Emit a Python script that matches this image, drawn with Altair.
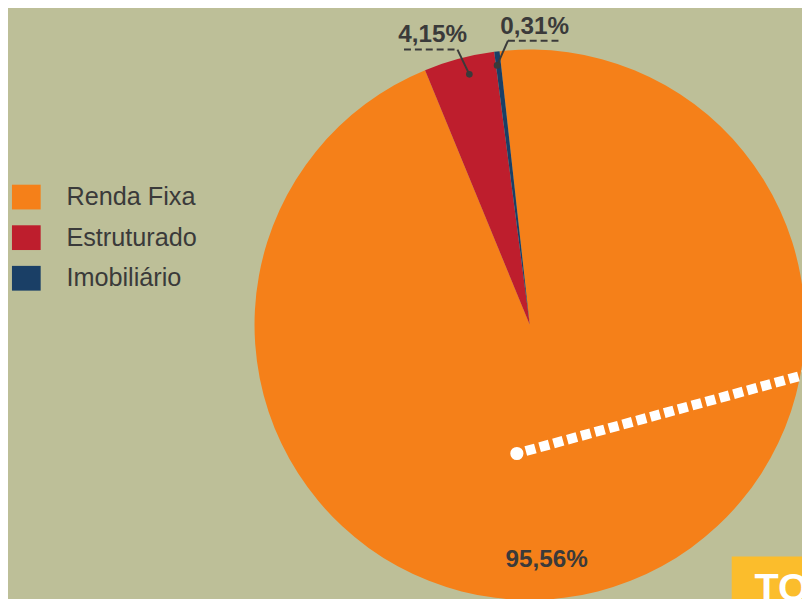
import math
import altair as alt
import pandas as pd

# ---- data ----
names = ["Renda Fixa", "Estruturado", "Imobiliário"]
values = [95.56, 4.15, 0.31]
colors = ["#F58019", "#BE1E2D", "#1A3F66"]
pct_labels = [f"{v:.2f}".replace(".", ",") + "%" for v in values]
total_label = "TOTAL"

BG = "#BDBF98"
TXT = "#3A3A3A"
FONT = "Liberation Sans, Arial, sans-serif"

df = pd.DataFrame({"name": names, "value": values, "idx": list(range(len(names)))})

start = -0.11
cx, cy, R = 527, 317, 278

rect_path = "M-1,-0.862H1V0.862H-1Z"

pie = alt.Chart(df).mark_arc(outerRadius=R, strokeWidth=0).encode(
    theta=alt.Theta("value:Q", stack=True,
                    scale=alt.Scale(range=[start, start + 2 * math.pi])),
    color=alt.Color("name:N",
                    scale=alt.Scale(domain=names, range=colors),
                    sort=names,
                    legend=alt.Legend(orient="none", legendX=4, legendY=173.5,
                                      title=None, symbolType=rect_path,
                                      symbolSize=841, symbolStrokeWidth=0,
                                      symbolOpacity=1,
                                      labelFont=FONT, labelFontSize=25.5,
                                      labelColor=TXT, labelOffset=26,
                                      rowPadding=13, padding=0)),
    order=alt.Order("idx:Q"),
    x=alt.value(cx), y=alt.value(cy),
)

def one(i):
    return pd.DataFrame({"label": [pct_labels[i]], "name": [names[i]]})

def text_layer(i, x, y):
    return alt.Chart(one(i)).mark_text(
        font=FONT, fontSize=24.5, fontWeight="bold", color=TXT,
        align="center", baseline="alphabetic"
    ).encode(text="label:N", x=alt.value(x), y=alt.value(y))

lbl0 = text_layer(0, 544, 562)
lbl1 = text_layer(1, 429, 31)
lbl2 = text_layer(2, 532, 23)

def seg(i, x1, y1, x2, y2, dash=None):
    kw = dict(color=TXT, strokeWidth=2)
    if dash:
        kw["strokeDash"] = dash
    return alt.Chart(one(i)).mark_rule(**kw).encode(
        x=alt.value(x1), y=alt.value(y1), x2=alt.value(x2), y2=alt.value(y2))

def dot(i, x, y):
    return alt.Chart(one(i)).mark_point(filled=True, color=TXT, opacity=1,
                                        size=45).encode(
        x=alt.value(x), y=alt.value(y))

lead1 = seg(1, 400, 39, 454, 39, [7, 4]) + seg(1, 454, 39, 466, 64) + dot(1, 466, 64)
lead2 = seg(2, 505, 30, 557, 30, [7, 4]) + seg(2, 505, 30, 494, 55) + dot(2, 494, 55)

tot_df = pd.DataFrame({"label": [total_label]})
white_line = alt.Chart(tot_df).mark_rule(color="white", strokeWidth=10,
                                         strokeDash=[10, 4.5], strokeCap="butt").encode(
    x=alt.value(523), y=alt.value(444.5), x2=alt.value(810), y2=alt.value(366))
white_dot = alt.Chart(tot_df).mark_point(filled=True, color="white", opacity=1,
                                         size=177).encode(
    x=alt.value(514), y=alt.value(447))

box = alt.Chart(tot_df).mark_rect(color="#FBBD2C").encode(
    x=alt.value(731), x2=alt.value(810), y=alt.value(551), y2=alt.value(600))
tot_text = alt.Chart(tot_df).mark_text(
    font=FONT, fontSize=40, fontWeight="bold",
    color="white", align="left", baseline="alphabetic"
).encode(text="label:N", x=alt.value(754), y=alt.value(596))

chart = alt.layer(pie, white_line, white_dot, lbl0, lbl1, lbl2, lead1, lead2,
                  box, tot_text).properties(
    width=802, height=591,
    autosize=alt.AutoSizeParams(type="none"),
    padding=0,
    background=BG,
).configure_view(stroke=None)

chart.save("out.html", embed_options={"renderer": "svg", "actions": False})
